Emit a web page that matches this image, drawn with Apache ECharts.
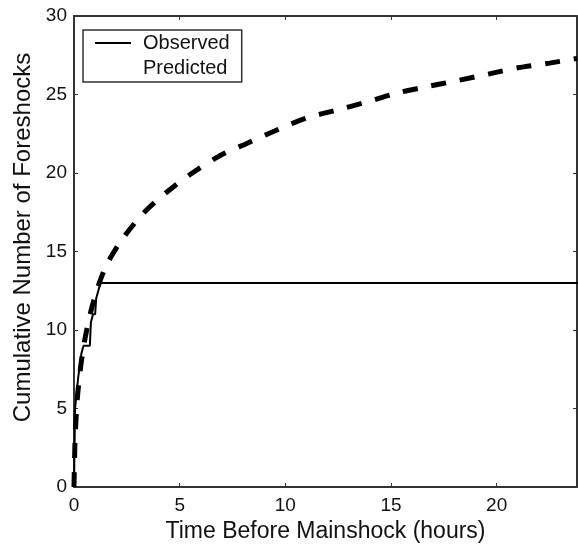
<!DOCTYPE html>
<html>
<head>
<meta charset="utf-8">
<script src="https://cdn.jsdelivr.net/npm/echarts@6/dist/echarts.min.js"></script>
<style>
  html, body { margin: 0; padding: 0; background: #fff; }
  #chart { width: 578px; height: 546px; }
</style>
</head>
<body>
<div id="chart"></div>
<script>
// observed foreshocks: time (hours) and cumulative count
const obsTime = [0, 0.05, 0.2, 0.35, 0.45, 0.75, 0.8, 0.9, 1.0, 1.05, 1.25, 24]
const obsCount = [0, 5, 7, 8.5, 9, 9, 10.5, 11, 11, 12, 13, 13]

// predicted curve
const predTime = [0, 0.05, 0.15, 0.3, 0.5, 0.8, 1.2, 1.6, 2.4, 3.4, 4.5, 5.6, 6.9, 8.2, 9.7, 11, 12.4, 13.8, 15.3, 16.7, 18.2, 19.6, 21, 22.5, 23.8]
const predCount = [0, 3, 5.5, 7.5, 9.3, 11.2, 13, 14.3, 16, 17.6, 18.9, 20, 21.1, 21.9, 22.8, 23.5, 24, 24.5, 25.1, 25.5, 25.9, 26.3, 26.7, 27, 27.3]

const xTicks = [0, 5, 10, 15, 20]
const yTicks = [0, 5, 10, 15, 20, 25, 30]

const font = 'Liberation Sans, Arial, sans-serif'
const axisColor = '#333'
const textColor = '#111'

function pairs (xs, ys) {
  return xs.map((x, i) => [x, ys[i]])
}

const chart = echarts.init(document.getElementById('chart'))

// shared look of the box: thick frame, short inward ticks
const frameAxis = {
  axisLine: { show: true, onZero: false, lineStyle: { color: axisColor, width: 2 } },
  axisTick: { show: true, inside: true, length: 4, lineStyle: { color: axisColor, width: 1 } },
  splitLine: { show: false }
}

const option = {
  animation: false,
  backgroundColor: '#fff',
  grid: { left: 74, top: 16, right: 1, bottom: 59, outerBoundsMode: 'none' },
  legend: {
    orient: 'vertical',
    left: 83,
    top: 30,
    width: 161,
    padding: [3, 12, 4, 12],
    borderColor: axisColor,
    borderWidth: 1.5,
    itemWidth: 36,
    itemHeight: 2,
    itemGap: 5,
    icon: 'rect',
    textStyle: { fontFamily: font, fontSize: 20, color: textColor, lineHeight: 20, padding: [0, 0, 0, 7] },
    data: [
      { name: 'Observed', itemStyle: { color: '#000' } },
      { name: 'Predicted', itemStyle: { opacity: 0 } }
    ]
  },
  xAxis: [
    Object.assign({}, frameAxis, {
      type: 'value',
      min: 0,
      max: 23.8,
      interval: 5,
      name: 'Time Before Mainshock (hours)',
      nameLocation: 'middle',
      nameGap: 31,
      nameTextStyle: { fontFamily: font, fontSize: 23, color: textColor },
      axisLabel: {
        fontFamily: font, fontSize: 19, color: textColor, margin: 9,
        showMaxLabel: false,
        formatter: (v) => xTicks.includes(v) ? String(v) : ''
      }
    }),
    Object.assign({}, frameAxis, {
      type: 'value', position: 'top', min: 0, max: 23.8, interval: 5,
      axisLabel: { show: false }
    })
  ],
  yAxis: [
    Object.assign({}, frameAxis, {
      type: 'value',
      min: 0,
      max: 30,
      interval: 5,
      name: 'Cumulative Number of Foreshocks',
      nameLocation: 'middle',
      nameGap: 38,
      nameTextStyle: { fontFamily: font, fontSize: 24, color: textColor, padding: [0, 0, 0, 28] },
      axisLabel: {
        fontFamily: font, fontSize: 19, color: textColor, margin: 7,
        formatter: (v) => yTicks.includes(v) ? String(v) : ''
      }
    }),
    Object.assign({}, frameAxis, {
      type: 'value', position: 'right', min: 0, max: 30, interval: 5,
      axisLabel: { show: false }
    })
  ],
  series: [
    {
      name: 'Predicted',
      type: 'line',
      smooth: 0.3,
      symbol: 'none',
      color: '#000',
      lineStyle: { color: '#000', width: 5, type: [15, 14], cap: 'butt' },
      data: pairs(predTime, predCount),
      z: 2
    },
    {
      name: 'Observed',
      type: 'line',
      symbol: 'none',
      color: '#000',
      lineStyle: { color: '#000', width: 2 },
      data: pairs(obsTime, obsCount),
      z: 3
    }
  ]
}

chart.setOption(option)
</script>
</body>
</html>
